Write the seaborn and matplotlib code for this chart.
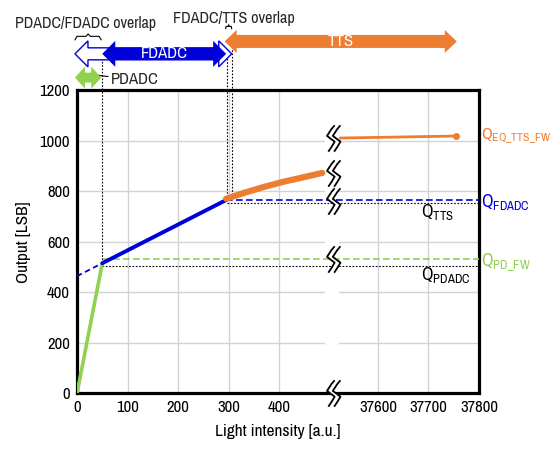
import numpy as np
import matplotlib.pyplot as plt
import seaborn as sns
from matplotlib.path import Path
from matplotlib.patches import Polygon

# ---- data (light intensity in a.u., output in LSB) ----
pd_x = [0, 50]
pd_y = [0, 515]
fd_x = [50, 295]
fd_y = [515, 765]
fd_ext_x = [0, 50]
fd_ext_y = [464, 515]
tts_x = [295, 330, 370, 410, 450, 485]
tts_y = [770, 793, 817, 838, 856, 872]
tts_far_x = [37525, 37755]
tts_far_y = [1010, 1018]

q_pdadc = 505
q_pd_fw = 530
q_tts = 755
q_fdadc = 765

x_ticks = [0, 100, 200, 300, 400, 37600, 37700, 37800]
y_ticks = [0, 200, 400, 600, 800, 1000, 1200]

GREEN = "#92d050"
BLUE = "#0000d8"
ORANGE = "#ed7d31"

SHIFT = 37005  # broken x axis: right part is drawn shifted left


def to_plot(x):
    x = np.asarray(x, float)
    return np.where(x > 1000, x - SHIFT, x)


sns.set_theme(style="white")
FONT = ["Archivo Narrow", "Liberation Sans", "DejaVu Sans"]
plt.rcParams["font.family"] = FONT
plt.rcParams["mathtext.fontset"] = "custom"
plt.rcParams["mathtext.rm"] = "Archivo Narrow"
plt.rcParams["mathtext.default"] = "regular"

fig = plt.figure(figsize=(5.57, 4.5), dpi=100)
ax = fig.add_axes([0.1382, 0.1256, 0.7218, 0.6744])

xmax = to_plot(37800)
ax.set_xlim(0, xmax)
ax.set_ylim(0, 1200)

# px -> data units
PX = xmax / 402
PY = 1200 / 303.5

# grid with a gap at the axis break
ax.set_axisbelow(True)
ax.grid(True, color="#d3d3d3", lw=1)
ax.axvspan(490, 518, color="white", zorder=0.8, lw=0)

# main curves
sns.lineplot(x=to_plot(fd_ext_x), y=fd_ext_y, ax=ax, color=BLUE, lw=1.3,
             linestyle=(0, (3, 2)), sort=False, estimator=None, zorder=3)
sns.lineplot(x=to_plot(pd_x), y=pd_y, ax=ax, color=GREEN, lw=2.6,
             sort=False, estimator=None, zorder=4)
sns.lineplot(x=to_plot(fd_x), y=fd_y, ax=ax, color=BLUE, lw=2.8,
             sort=False, estimator=None, zorder=4)
sns.lineplot(x=to_plot(tts_x), y=tts_y, ax=ax, color=ORANGE, lw=4.5,
             sort=False, estimator=None, zorder=4, solid_capstyle="round")
sns.lineplot(x=to_plot(tts_far_x), y=tts_far_y, ax=ax, color=ORANGE, lw=2,
             sort=False, estimator=None, zorder=4)
ax.plot(to_plot(tts_far_x[-1:]), tts_far_y[-1:], "o", color=ORANGE, ms=4, zorder=4)

# reference levels
ax.hlines(q_pd_fw, 52, xmax, colors=GREEN, lw=1.2, linestyles=(0, (4, 2)), zorder=3)
ax.hlines(q_pdadc, 49, xmax, colors="black", lw=0.8, linestyles=(0, (1.5, 1.5)), zorder=3)
ax.hlines(q_fdadc, 295, xmax, colors=BLUE, lw=1.2, linestyles=(0, (4, 2)), zorder=3)
ax.hlines(q_tts, 296, xmax, colors="black", lw=0.8, linestyles=(0, (1.5, 1.5)), zorder=3)

# vertical dotted guides up to the range arrows
for xv, y0, y1 in [(50, 515, 1343), (296, 765, 1343), (306, 772, 1400)]:
    ax.plot([xv, xv], [y0, y1], color="black", lw=0.8, ls=(0, (1.5, 1.5)),
            clip_on=False, zorder=2)


def double_arrow(x0, x1, yc, shaft, head, hlen, **kw):
    pts = [(x0, yc), (x0 + hlen, yc + head), (x0 + hlen, yc + shaft),
           (x1 - hlen, yc + shaft), (x1 - hlen, yc + head), (x1, yc),
           (x1 - hlen, yc - head), (x1 - hlen, yc - shaft),
           (x0 + hlen, yc - shaft), (x0 + hlen, yc - head)]
    ax.add_patch(Polygon(pts, closed=True, clip_on=False, **kw))


def brace(x0, x1, y, h):
    xm = (x0 + x1) / 2
    d = (x1 - x0) * 0.08
    xs = [x0, x0 + d, xm - d, xm, xm + d, x1 - d, x1]
    ys = [y, y + h * 0.6, y + h * 0.6, y + h, y + h * 0.6, y + h * 0.6, y]
    ax.plot(xs, ys, color="black", lw=0.8, clip_on=False)


# range arrows above the plot
double_arrow(292, to_plot(37756), 1392, 6.5 * PY, 11.5 * PY, 12 * PX,
             facecolor=ORANGE, edgecolor="none", zorder=6)
double_arrow(-4, 306, 1343, 6 * PY, 13 * PY, 13 * PX,
             facecolor="white", edgecolor=BLUE, lw=1, zorder=7)
double_arrow(50, 295, 1343, 6 * PY, 13 * PY, 13 * PX,
             facecolor=BLUE, edgecolor="none", zorder=8)
double_arrow(-4, 48, 1249, 5 * PY, 11 * PY, 10 * PX,
             facecolor=GREEN, edgecolor="none", zorder=6)

ax.text(172, 1343, "FDADC", color="white", fontsize=12, ha="center", va="center", zorder=9)
ax.text(521, 1392, "TTS", color="white", fontsize=12, ha="center", va="center", zorder=9)
ax.annotate("PDADC", xy=(26, 1262), xytext=(68, 1240), ha="left", va="center",
            fontsize=12, annotation_clip=False,
            arrowprops=dict(arrowstyle="-|>", color="black", lw=0.8,
                            mutation_scale=6, shrinkA=0, shrinkB=0))

brace(-4, 48, 1398, 6 * PY)
ax.text(17, 1461, "PDADC/FDADC overlap", fontsize=11.5, ha="center", va="center")
brace(294, 306, 1442, 4 * PY)
ax.text(311, 1484, "FDADC/TTS overlap", fontsize=11.7, ha="center", va="center")

# level labels
xr = xmax + 3
ax.text(xr, 1006, r"$Q_{EQ\_TTS\_FW}$", color=ORANGE, fontsize=12, va="baseline")
ax.text(xr, 737, r"$Q_{FDADC}$", color=BLUE, fontsize=13, va="baseline")
ax.text(xr, 504, r"$Q_{PD\_FW}$", color=GREEN, fontsize=13, va="baseline")
ax.text(681, 697, r"$Q_{TTS}$", color="black", fontsize=13, va="baseline")
ax.text(681, 447, r"$Q_{PDADC}$", color="black", fontsize=13, va="baseline")

# axis-break marks
stroke = [(0.12, 0.5), (0.0, 0.36), (-0.17, 0.1), (-0.04, 0.0),
          (0.12, -0.12), (0.0, -0.32), (-0.12, -0.5)]
off = 0.22
shifted = [(x + off, y) for x, y in stroke]
n = len(stroke)
zig = Path(stroke + shifted,
           ([Path.MOVETO] + [Path.LINETO] * (n - 1)) * 2)
mask = Path(stroke + shifted[::-1] + [stroke[0]],
            [Path.MOVETO] + [Path.LINETO] * (2 * n - 1) + [Path.CLOSEPOLY])
break_y = [1012, 872, 763, 530, 0]
bx = [503] * len(break_y)
ax.plot(bx, break_y, ls="none", marker=mask, ms=19, mfc="white", mec="none",
        clip_on=False, zorder=10)
ax.plot(bx, break_y, ls="none", marker=zig, ms=19, mfc="none", mec="black",
        mew=1.3, clip_on=False, zorder=11)

# axes styling
ax.set_xticks(to_plot(x_ticks))
ax.set_xticklabels([str(v) for v in x_ticks])
ax.set_yticks(y_ticks)
ax.tick_params(length=0, labelsize=12, pad=5, colors="black")
for s in ax.spines.values():
    s.set_color("black")
    s.set_linewidth(2.3)
ax.set_xlabel("Light intensity [a.u.]", fontsize=12.5, color="black", labelpad=6)
ax.set_ylabel("Output [LSB]", fontsize=12.5, color="black", labelpad=6)

fig.savefig("out.png", dpi=100)
